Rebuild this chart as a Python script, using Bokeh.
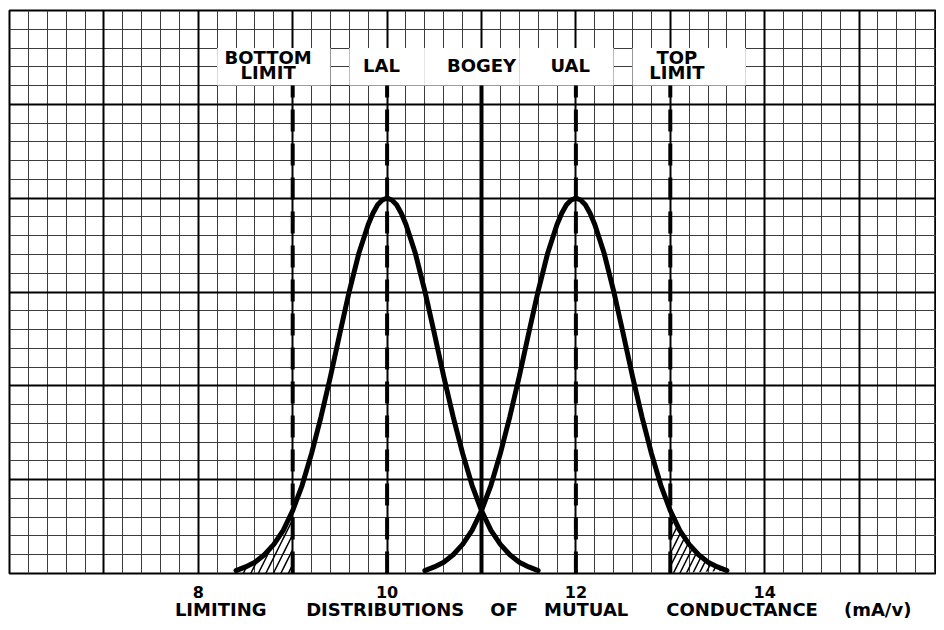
from bokeh.plotting import figure
from bokeh.models import FixedTicker, Range1d, LinearAxis
from bokeh.core.properties import value
from bokeh.embed import file_html
from bokeh.resources import INLINE

# ---------------- data ----------------
TICK_VALUES = [8, 10, 12, 14]
TICK_LABELS = ["8", "10", "12", "14"]

LIMIT_NAMES = ["BOTTOM\nLIMIT", "LAL", "BOGEY", "UAL", "TOP\nLIMIT"]
LIMIT_X = [9, 10, 11, 12, 13]
LIMIT_DASHED = [True, True, False, True, True]

# distribution centred on LAL
LOWER_X = [8.4, 8.5, 8.6, 8.7, 8.8, 8.9, 9.0, 9.1, 9.2, 9.3, 9.4, 9.5, 9.6, 9.7, 9.8,
           9.85, 9.9, 9.95, 10.0, 10.05, 10.1, 10.15, 10.2, 10.3, 10.4, 10.5, 10.6, 10.7,
           10.8, 10.9, 11.0, 11.1, 11.2, 11.3, 11.4, 11.5, 11.6]
LOWER_Y = [0.03, 0.07, 0.12, 0.20, 0.31, 0.46, 0.67, 0.94, 1.28, 1.67, 2.10, 2.56, 3.01,
           3.41, 3.72, 3.84, 3.93, 3.98, 4.00, 3.98, 3.93, 3.84, 3.72, 3.41, 3.01, 2.56,
           2.10, 1.67, 1.28, 0.94, 0.67, 0.46, 0.31, 0.20, 0.12, 0.07, 0.03]

# distribution centred on UAL
UPPER_X = [10.4, 10.5, 10.6, 10.7, 10.8, 10.9, 11.0, 11.1, 11.2, 11.3, 11.4, 11.5, 11.6,
           11.7, 11.8, 11.85, 11.9, 11.95, 12.0, 12.05, 12.1, 12.15, 12.2, 12.3, 12.4,
           12.5, 12.6, 12.7, 12.8, 12.9, 13.0, 13.1, 13.2, 13.3, 13.4, 13.5, 13.6]
UPPER_Y = [0.03, 0.07, 0.12, 0.20, 0.31, 0.46, 0.67, 0.94, 1.28, 1.67, 2.10, 2.56, 3.01,
           3.41, 3.72, 3.84, 3.93, 3.98, 4.00, 3.98, 3.93, 3.84, 3.72, 3.41, 3.01, 2.56,
           2.10, 1.67, 1.28, 0.94, 0.67, 0.46, 0.31, 0.20, 0.12, 0.07, 0.03]

TITLE_WORDS = ["LIMITING", "DISTRIBUTIONS", "OF", "MUTUAL", "CONDUCTANCE", "(mA/v)"]

# ---------------- layout / style ----------------
FONT = value("DejaVu Sans")
X_START, X_END = 6, 15.82
Y_START, Y_END = 0, 6
BOX_BOTTOM, BOX_TOP = 5.2, 5.6
BOX_LEFT_OFF = [-0.8, -0.4, -0.6, -0.6, -0.4]
BOX_RIGHT_OFF = [0.4, 0.4, 0.4, 0.4, 0.8]
LABEL_DX = [-0.26, -0.06, 0.0, -0.06, 0.07]
LABEL_Y = [5.42, 5.415, 5.415, 5.415, 5.42]
TITLE_X = [8.237, 9.98, 11.24, 12.109, 13.76, 15.197]

p = figure(width=936, height=622,
           x_range=Range1d(X_START, X_END), y_range=Range1d(Y_START, Y_END),
           output_backend="svg", toolbar_location=None, y_axis_location=None,
           min_border_left=9, min_border_right=0, min_border_top=10, min_border_bottom=49)
p.background_fill_color = "white"
p.border_fill_color = "white"
p.outline_line_color = "black"
p.outline_line_width = 2
p.xgrid.visible = False
p.ygrid.visible = False

# graph-paper ruling: fine lines every 0.2 unit, heavy lines every unit
fine_x = [round(X_START + 0.2 * i, 1) for i in range(1, 50) if i % 5]
fine_y = [round(Y_START + 0.2 * i, 1) for i in range(1, 30) if i % 5]
heavy_x = list(range(7, 16))
heavy_y = list(range(1, 6))
p.vspan(x=fine_x, line_color="#3c3c3c", line_width=1)
p.hspan(y=fine_y, line_color="#3c3c3c", line_width=1)
p.vspan(x=heavy_x, line_color="black", line_width=2)
p.hspan(y=heavy_y, line_color="black", line_width=2)

# x axis with the numeric ticks
ax = p.xaxis[0]
ax.ticker = FixedTicker(ticks=TICK_VALUES)
ax.major_label_overrides = {v: t for v, t in zip(TICK_VALUES, TICK_LABELS)}
ax.axis_line_color = None
ax.major_tick_line_color = None
ax.minor_tick_line_color = None
ax.major_tick_out = 0
ax.minor_tick_out = 0
ax.major_label_standoff = 12
ax.major_label_text_font = "DejaVu Sans"
ax.major_label_text_font_style = "bold"
ax.major_label_text_font_size = "16px"
ax.major_label_text_color = "black"

# axis title, word by word (wide spacing as in the original)
tax = LinearAxis(ticker=FixedTicker(ticks=TITLE_X),
                 major_label_overrides={x: w for x, w in zip(TITLE_X, TITLE_WORDS)},
                 axis_line_color=None, major_tick_line_color=None,
                 minor_tick_line_color=None, major_tick_out=0, minor_tick_out=0,
                 major_label_standoff=-2, major_label_text_font="DejaVu Sans",
                 major_label_text_font_style="bold", major_label_text_font_size="18px",
                 major_label_text_color="black")
p.add_layout(tax, "below")

# white label boxes
p.quad(left=[x + o for x, o in zip(LIMIT_X, BOX_LEFT_OFF)],
       right=[x + o for x, o in zip(LIMIT_X, BOX_RIGHT_OFF)],
       bottom=BOX_BOTTOM, top=BOX_TOP, fill_color="white", line_color=None)

# hatched tails outside the limits
lx = [x for x in LOWER_X if x <= LIMIT_X[0]]
ly = LOWER_Y[:len(lx)]
p.patch(lx + [LIMIT_X[0], lx[0]], ly + [0, 0], fill_alpha=0, line_color=None,
        hatch_pattern="/", hatch_color="black", hatch_weight=1.5, hatch_scale=15)
k = [i for i, x in enumerate(UPPER_X) if x >= LIMIT_X[-1]]
ux = [UPPER_X[i] for i in k]
uy = [UPPER_Y[i] for i in k]
p.patch([LIMIT_X[-1]] + ux + [LIMIT_X[-1]], [0] + uy + [0], fill_alpha=0, line_color=None,
        hatch_pattern="/", hatch_color="black", hatch_weight=1.5, hatch_scale=13)

# limit lines
dx = [x for x, d in zip(LIMIT_X, LIMIT_DASHED) if d]
sx = [x for x, d in zip(LIMIT_X, LIMIT_DASHED) if not d]
p.segment(x0=dx, y0=Y_START, x1=dx, y1=BOX_BOTTOM, line_color="black",
          line_width=4, line_dash="22 12")
p.segment(x0=sx, y0=Y_START, x1=sx, y1=BOX_BOTTOM, line_color="black", line_width=4)

# distributions
for xs, ys in ((LOWER_X, LOWER_Y), (UPPER_X, UPPER_Y)):
    p.line(xs, ys, line_color="black", line_width=5, line_join="round", line_cap="round")

# limit labels
p.text(x=[x + d for x, d in zip(LIMIT_X, LABEL_DX)], y=LABEL_Y, text=LIMIT_NAMES,
       text_font=FONT, text_font_style="bold", text_font_size="18px",
       text_align="center", text_baseline="middle", text_line_height=0.75,
       text_color="black")

open("out.html", "w").write(file_html(p, INLINE))
